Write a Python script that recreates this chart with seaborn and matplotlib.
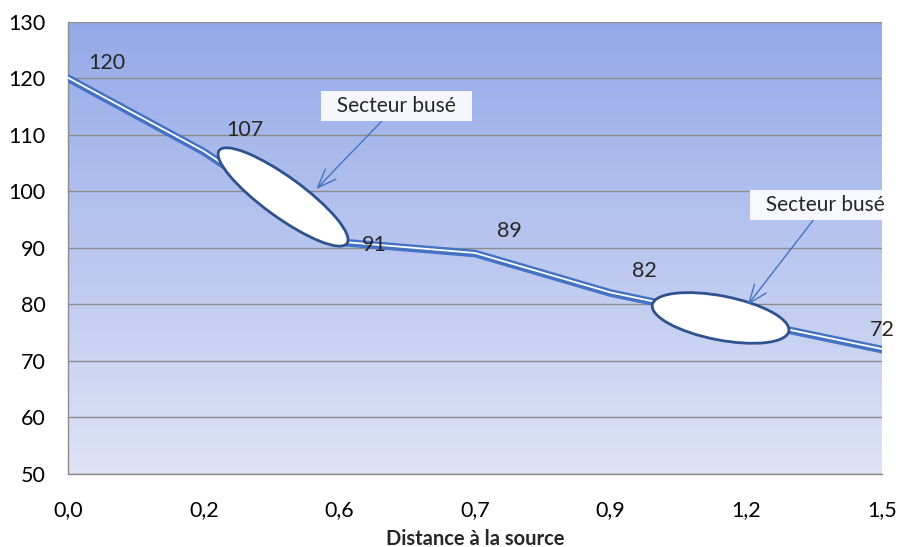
import numpy as np
import matplotlib
matplotlib.use('Agg')
import matplotlib.pyplot as plt
import matplotlib.patheffects as pe
from matplotlib.patches import Ellipse
from matplotlib.transforms import ScaledTranslation
import seaborn as sns

sns.set_style('white')
plt.rcParams['font.family'] = ['Lato', 'DejaVu Sans']

distance = ['0,0', '0,2', '0,6', '0,7', '0,9', '1,2', '1,5']
valeur = [120, 107, 91, 89, 82, 77, 72]
etiquettes = ['120', '107', '91', '89', '82', '', '72']
# decalage des etiquettes (points)
decal = [(28, 11), (30, 16), (25, -2), (25, 16), (24, 16), (0, 0), (0, 14)]

bleu = '#4472c4'
gris = '#8c8c8c'

fig = plt.figure(figsize=(9, 5.47), dpi=100)
ax = fig.add_axes([0.0756, 0.1335, 0.9044, 0.8268])

# fond en degrade
grad = np.linspace(0, 1, 256).reshape(-1, 1)
haut = np.array([148, 169, 232]) / 255
bas = np.array([222, 227, 246]) / 255
img = haut[None, None, :] * (1 - grad[:, :, None]) + bas[None, None, :] * grad[:, :, None]
ax.imshow(img, extent=[0, 1, 0, 1], transform=ax.transAxes, aspect='auto', zorder=0)

sns.lineplot(x=distance, y=valeur, sort=False, ax=ax, color=bleu, zorder=3,
             path_effects=[pe.Stroke(linewidth=5.5, foreground=bleu),
                           pe.Stroke(linewidth=1.3, foreground='white', offset=(0, 0.4))])

ax.set_xlim(0, len(distance) - 1)
ax.set_ylim(50, 130)
ax.set_yticks(range(50, 131, 10))
ax.yaxis.grid(True, color=gris, linewidth=1, zorder=1)
ax.set_axisbelow(True)
for s in ['top', 'right']:
    ax.spines[s].set_visible(False)
for s in ['left', 'bottom']:
    ax.spines[s].set_color(gris)
    ax.spines[s].set_linewidth(1)
ax.tick_params(axis='both', direction='out', length=5, color=gris, width=1,
               labelsize=15.5, labelcolor='black')
ax.tick_params(axis='y', pad=11)
ax.tick_params(axis='x', pad=14)
ax.set_xlabel('Distance à la source', fontsize=14.5, fontweight='bold', labelpad=6)
ax.set_ylabel('')

for i, (v, t) in enumerate(zip(valeur, etiquettes)):
    if t:
        ax.annotate(t, (i, v), xytext=decal[i], textcoords='offset points',
                    ha='center', va='center', fontsize=15.5, zorder=6)

# secteurs buses (ellipses blanches)
ellipses = [((1.585, 99.0), 1.58, 0.40, -36), ((4.81, 77.6), 1.39, 0.44, -11)]
for (cx, cy), w, h, ang in ellipses:
    tr = fig.dpi_scale_trans + ScaledTranslation(cx, cy, ax.transData)
    ax.add_patch(Ellipse((0, 0), w, h, angle=ang, transform=tr, facecolor='white',
                         edgecolor='#2f528f', linewidth=2, zorder=5))

notes = [((2.42, 115.1), (1.83, 100.4)), ((5.58, 97.6), (5.01, 79.9))]
for (tx, ty), (px, py) in notes:
    ax.annotate('  Secteur busé  ', xy=(px, py), xytext=(tx, ty), ha='center', va='center',
                fontsize=15, zorder=7, annotation_clip=False,
                bbox=dict(boxstyle='square,pad=0.25', facecolor='white', edgecolor='none', alpha=0.9),
                arrowprops=dict(arrowstyle='->,head_length=0.9,head_width=0.35', color=bleu,
                                linewidth=1, shrinkA=0, shrinkB=0))

fig.savefig('out.png', dpi=100)
